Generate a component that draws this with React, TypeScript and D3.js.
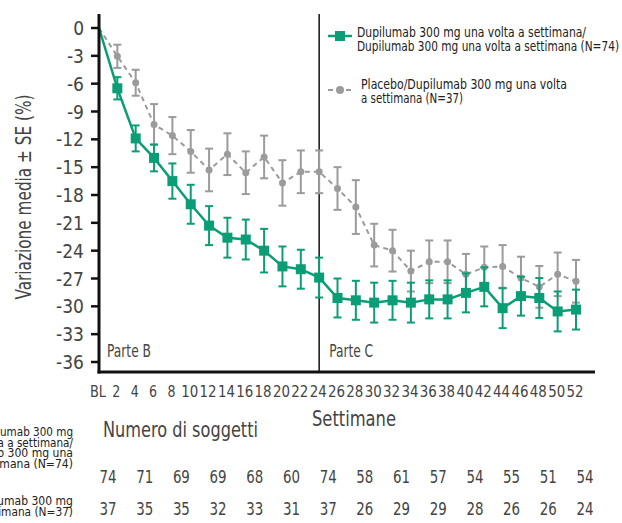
import React from 'react';
import * as d3 from 'd3';

// weeks of observation (0 = baseline)
const weeks = [0, 2, 4, 6, 8, 10, 12, 14, 16, 18, 20, 22, 24, 26, 28, 30, 32, 34, 36, 38, 40, 42, 44, 46, 48, 50, 52];

// Dupilumab / Dupilumab
const dupiMean = [0, -6.5, -11.9, -14.0, -16.5, -19.0, -21.3, -22.6, -22.8, -24.0, -25.7, -26.0, -26.9, -29.1, -29.35, -29.6, -29.35, -29.6, -29.25, -29.25, -28.55, -27.9, -30.2, -28.9, -29.1, -30.55, -30.35];
const dupiSE = [0, 1.2, 1.4, 1.45, 1.9, 2.1, 2.1, 2.15, 2.15, 2.35, 2.15, 2.1, 2.15, 2.1, 2.1, 2.15, 2.1, 2.15, 2.05, 2.05, 2.1, 2.1, 2.15, 2.1, 2.15, 2.15, 2.15];

// Placebo / Dupilumab
const placeboMean = [0, -3.05, -5.9, -10.4, -11.6, -13.3, -15.3, -13.6, -15.6, -13.9, -16.7, -15.5, -15.5, -17.3, -19.3, -23.4, -24.0, -26.2, -25.2, -25.2, -26.55, -25.8, -25.7, -26.95, -27.9, -26.55, -27.3];
const placeboSE = [0, 1.25, 1.4, 2.2, 2.0, 2.3, 2.3, 2.25, 2.3, 2.3, 2.45, 2.3, 2.3, 2.3, 2.9, 2.3, 2.25, 2.2, 2.3, 2.3, 2.2, 2.25, 2.3, 2.3, 2.25, 2.35, 2.3];

const yTicks = [0, -3, -6, -9, -12, -15, -18, -21, -24, -27, -30, -33, -36];

// number of subjects table
const countWeeks = [0, 4, 8, 12, 16, 20, 24, 28, 32, 36, 40, 44, 48, 52];
const dupiCounts = [74, 71, 69, 69, 68, 60, 74, 58, 61, 57, 54, 55, 51, 54];
const placeboCounts = [37, 35, 35, 32, 33, 31, 37, 26, 29, 29, 28, 26, 26, 24];

const GREEN = '#0b9e76';
const GREY = '#9b9b9b';
const TEXT = '#444';
const FONT = '"DejaVu Sans Condensed", "Liberation Sans Narrow", Roboto, sans-serif';

const App: React.FC = () => {
  const width = 622;
  const height = 523;

  const x = d3.scaleLinear().domain([0, 52]).range([99, 576]);
  const y = d3.scaleLinear().domain([0, -36]).range([28, 362]);
  const axisLeftX = 99;
  const axisBottomY = 372;
  const axisTop = 14;

  const dupi = weeks.map((w, i) => ({ w, m: dupiMean[i], se: dupiSE[i] }));
  const plac = weeks.map((w, i) => ({ w, m: placeboMean[i], se: placeboSE[i] }));

  const line = d3.line<{ w: number; m: number }>()
    .x(d => x(d.w))
    .y(d => y(d.m));

  const errBar = (d: { w: number; m: number; se: number }, color: string, key: string) => {
    if (d.w === 0) return null;
    const cx = x(d.w);
    const y1 = y(d.m + d.se);
    const y2 = y(d.m - d.se);
    return (
      <g key={key} stroke={color} strokeWidth={2}>
        <line x1={cx} x2={cx} y1={y1} y2={y2} />
        <line x1={cx - 4} x2={cx + 4} y1={y1} y2={y1} />
        <line x1={cx - 4} x2={cx + 4} y1={y2} y2={y2} />
      </g>
    );
  };

  const fit = { lengthAdjust: 'spacingAndGlyphs' as const };

  return (
    <div style={{ position: 'absolute', left: 0, top: 0 }}>
      <svg width={width} height={height} style={{ display: 'block', background: '#fff' }} fontFamily={FONT}>
        {/* y axis title */}
        <text
          transform={`translate(23,${197}) rotate(-90)`}
          textAnchor="middle"
          dominantBaseline="central"
          fontSize={22}
          fill={TEXT}
          textLength={205}
          {...fit}
        >
          Variazione media ± SE (%)
        </text>

        {/* y ticks */}
        {yTicks.map(t => (
          <g key={t}>
            <line x1={axisLeftX - 8} x2={axisLeftX} y1={y(t)} y2={y(t)} stroke="#111" strokeWidth={2.5} />
            <text x={axisLeftX - 15} y={y(t)} textAnchor="end" dominantBaseline="central" fontSize={19} fill={TEXT}>
              {t}
            </text>
          </g>
        ))}

        {/* x tick labels */}
        {weeks.map(w => (
          <text key={w} x={x(w) - 1} y={391} textAnchor="middle" dominantBaseline="central" fontSize={16} fill={TEXT}
            textLength={w === 0 ? 16 : w < 10 ? 8 : 17} {...fit}>
            {w === 0 ? 'BL' : w}
          </text>
        ))}

        {/* part divider */}
        <line x1={x(24)} x2={x(24)} y1={axisTop} y2={axisBottomY} stroke="#111" strokeWidth={1.5} />
        <text x={107} y={351} dominantBaseline="central" fontSize={17} fill={TEXT} textLength={44} {...fit}>Parte B</text>
        <text x={x(24) + 10} y={351} dominantBaseline="central" fontSize={17} fill={TEXT} textLength={44} {...fit}>Parte C</text>

        {/* placebo series */}
        <path d={line(plac) || ''} fill="none" stroke={GREY} strokeWidth={2} strokeDasharray="5,4" />
        {plac.map((d, i) => errBar(d, GREY, `pe${i}`))}
        {plac.filter(d => d.w > 0).map((d, i) => (
          <circle key={`pc${i}`} cx={x(d.w)} cy={y(d.m)} r={3.5} fill={GREY} />
        ))}

        {/* dupilumab series */}
        <path d={line(dupi) || ''} fill="none" stroke={GREEN} strokeWidth={2.5} />
        {dupi.map((d, i) => errBar(d, GREEN, `de${i}`))}
        {dupi.filter(d => d.w > 0).map((d, i) => (
          <rect key={`dr${i}`} x={x(d.w) - 5} y={y(d.m) - 5} width={10} height={10} fill={GREEN} />
        ))}

        {/* axes */}
        <line x1={axisLeftX} x2={axisLeftX} y1={axisTop} y2={axisBottomY + 1.5} stroke="#111" strokeWidth={3} />
        <line x1={axisLeftX - 1.5} x2={595} y1={axisBottomY} y2={axisBottomY} stroke="#111" strokeWidth={3} />

        {/* legend */}
        <g fontSize={14} fill="#222">
          <line x1={328} x2={352} y1={36} y2={36} stroke={GREEN} strokeWidth={2.5} />
          <rect x={335} y={31} width={10} height={10} fill={GREEN} />
          <text x={357} y={37} textLength={229} {...fit}>Dupilumab 300 mg  una volta a settimana/</text>
          <text x={357} y={51} textLength={262} {...fit}>Dupilumab 300 mg  una volta a settimana (N=74)</text>

          <line x1={328} x2={351} y1={90} y2={90} stroke={GREY} strokeWidth={2} strokeDasharray="5,4" />
          <circle cx={340} cy={90} r={4} fill={GREY} />
          <text x={361} y={89} textLength={206} {...fit}>Placebo/Dupilumab 300 mg  una volta</text>
          <text x={361} y={103} textLength={102} {...fit}>a settimana (N=37)</text>
        </g>

        {/* axis titles */}
        <text x={354} y={419} textAnchor="middle" dominantBaseline="central" fontSize={21} fill={TEXT} textLength={84} {...fit}>Settimane</text>
        <text x={103} y={430} dominantBaseline="central" fontSize={21} fill={TEXT} textLength={155} {...fit}>Numero di soggetti</text>

        {/* table row labels (partly off the left edge) */}
        <g fontSize={12.5} fill="#222" textAnchor="end">
          <text x={73} y={436} textLength={100} {...fit}>Dupilumab 300 mg</text>
          <text x={73} y={447} textLength={118} {...fit}>una volta a settimana/</text>
          <text x={73} y={457} textLength={128} {...fit}>Dupilumab 300 mg  una</text>
          <text x={73} y={468} textLength={138} {...fit}>volta a settimana (N=74)</text>
          <text x={73} y={505} textLength={150} {...fit}>Placebo/Dupilumab 300 mg</text>
          <text x={73} y={516} textLength={158} {...fit}>una volta a settimana (N=37)</text>
        </g>

        {/* table values */}
        {countWeeks.map((w, i) => (
          <g key={`n${w}`} fontSize={18} fill={TEXT} textAnchor="middle">
            <text x={x(w) + 9} y={476} dominantBaseline="central" textLength={17} {...fit}>{dupiCounts[i]}</text>
            <text x={x(w) + 9} y={508} dominantBaseline="central" textLength={17} {...fit}>{placeboCounts[i]}</text>
          </g>
        ))}
      </svg>
    </div>
  );
};

export default App;
